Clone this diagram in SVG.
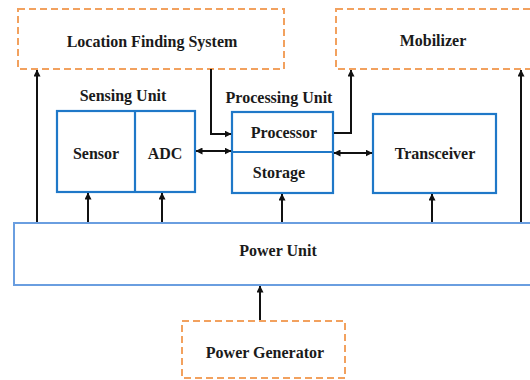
<svg xmlns="http://www.w3.org/2000/svg" width="530" height="380" viewBox="0 0 530 380">
<style>
.dash{fill:#fff;stroke:#F2A15E;stroke-width:2;stroke-dasharray:7 4}
.blue{fill:#fff;stroke:#1F78C8;stroke-width:2.2}
.pu{fill:#fff;stroke:#6A9EE0;stroke-width:2}
.t{font-family:"Liberation Serif","Times New Roman",serif;font-weight:bold;font-size:16px;fill:#1a1a1a;text-anchor:middle}
.c{fill:none;stroke:#111;stroke-width:2}
</style>
<defs>
<marker id="ah" markerWidth="7" markerHeight="7" refX="6.5" refY="3.5" orient="auto-start-reverse" markerUnits="userSpaceOnUse">
<path d="M0,0 L7,3.5 L0,7 z" fill="#111"/>
</marker>
</defs>
<rect width="530" height="380" fill="#fff"/>
<g id="lfs"><rect class="dash" x="18" y="9" width="266" height="60"/><text class="t" x="152" y="47">Location Finding System</text></g>
<g id="mobilizer"><rect class="dash" x="336" y="9" width="200" height="60"/><text class="t" x="433" y="46">Mobilizer</text></g>
<g id="sensing"><text class="t" x="123" y="101">Sensing Unit</text><rect class="blue" x="57" y="111" width="138" height="81"/><line x1="135" y1="111" x2="135" y2="192" stroke="#1F78C8" stroke-width="2.2"/><text class="t" x="96" y="159">Sensor</text><text class="t" x="165" y="159">ADC</text></g>
<g id="processing"><text class="t" x="279" y="103">Processing Unit</text><rect class="blue" x="232" y="112" width="101" height="81"/><line x1="232" y1="152" x2="333" y2="152" stroke="#1F78C8" stroke-width="2.2"/><text class="t" x="284" y="138">Processor</text><text class="t" x="279" y="178">Storage</text></g>
<g id="transceiver"><rect class="blue" x="373" y="114" width="123" height="79"/><text class="t" x="435" y="159">Transceiver</text></g>
<g id="power"><rect class="pu" x="14" y="223" width="530" height="62"/><text class="t" x="278" y="256">Power Unit</text></g>
<g id="generator"><rect class="dash" x="182" y="321" width="163" height="57"/><text class="t" x="265" y="358">Power Generator</text></g>
<g id="connectors">
<line class="c" x1="37" y1="222" x2="37" y2="70" marker-end="url(#ah)"/>
<line class="c" x1="521" y1="222" x2="521" y2="70" marker-end="url(#ah)"/>
<polyline class="c" points="211,69 211,134 231,134" marker-end="url(#ah)"/>
<polyline class="c" points="334,133 351,133 351,70" marker-end="url(#ah)"/>
<line class="c" x1="196" y1="151" x2="231" y2="151" marker-start="url(#ah)" marker-end="url(#ah)"/>
<line class="c" x1="334" y1="153" x2="372" y2="153" marker-start="url(#ah)" marker-end="url(#ah)"/>
<line class="c" x1="88" y1="222" x2="88" y2="193" marker-end="url(#ah)"/>
<line class="c" x1="162" y1="222" x2="162" y2="193" marker-end="url(#ah)"/>
<line class="c" x1="282" y1="222" x2="282" y2="194" marker-end="url(#ah)"/>
<line class="c" x1="432" y1="222" x2="432" y2="194" marker-end="url(#ah)"/>
<line class="c" x1="260" y1="320" x2="260" y2="286" marker-end="url(#ah)"/>
</g>
</svg>
